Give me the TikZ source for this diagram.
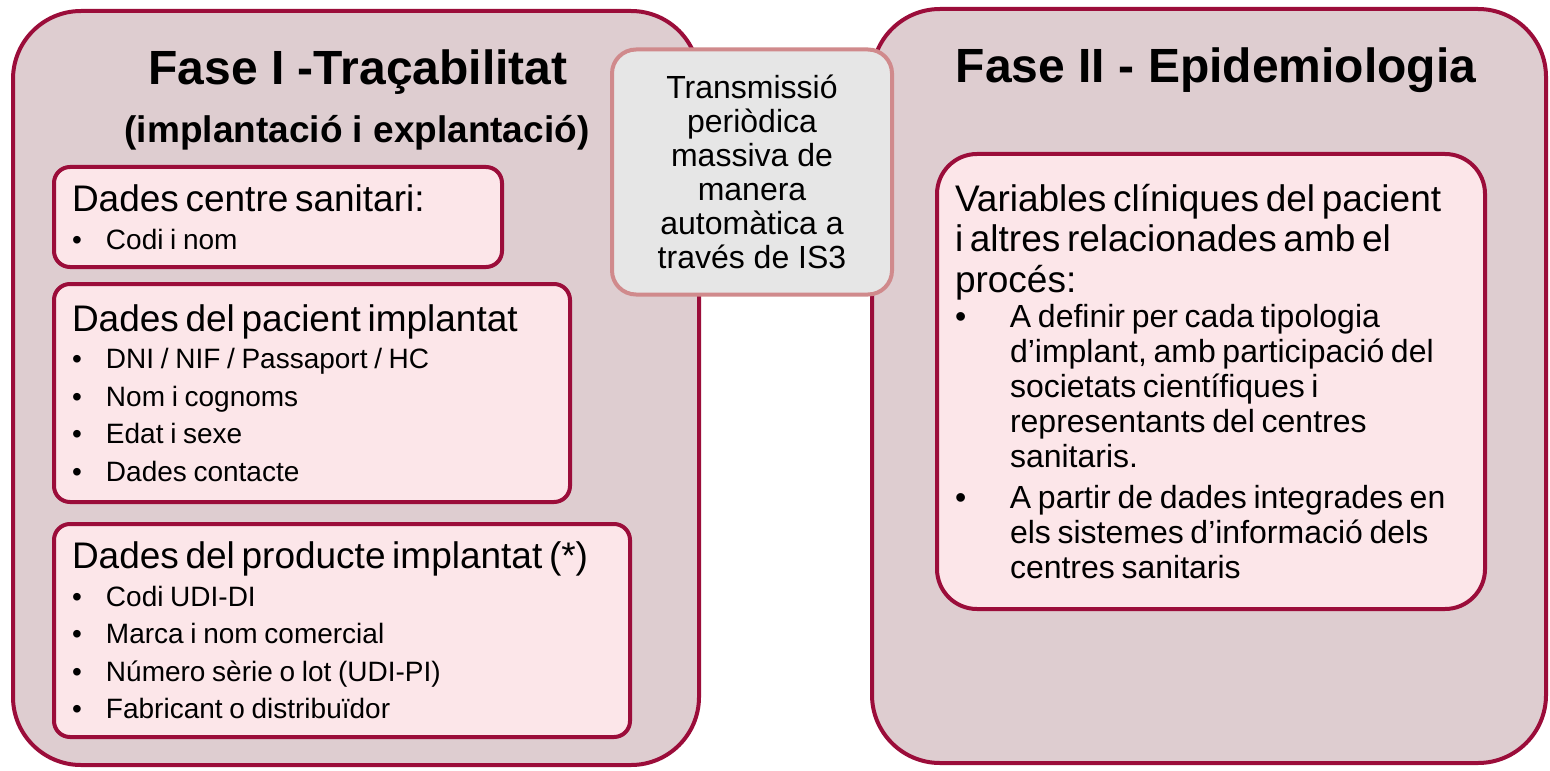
\documentclass[tikz,border=0pt]{standalone}
\usepackage{fontspec}
\setmainfont{Liberation Sans}
\usetikzlibrary{positioning}

\definecolor{faseborder}{HTML}{9B0D3A}
\definecolor{fasefill}{HTML}{DECDD0}
\definecolor{itemfill}{HTML}{FCE6E9}
\definecolor{linkfill}{HTML}{E6E6E6}
\definecolor{linkborder}{HTML}{D08A8C}

\newcommand{\headtxt}{\fontsize{18.5}{20.25}\selectfont}
\newcommand{\itemtxt}{\fontsize{14}{18.75}\selectfont}
\newcommand{\bul}[1]{\makebox[17pt][l]{\textbullet}#1}
\newcommand{\hbul}[1]{\makebox[27.5pt][l]{\textbullet}#1}
\newcommand{\hcont}[1]{\hspace*{27.5pt}#1}

\tikzset{
  fasebox/.style={draw=faseborder, fill=fasefill, line width=2pt, rounded corners=34pt},
  itembox/.style={draw=faseborder, fill=itemfill, line width=2pt, rounded corners=8pt,
    inner xsep=9pt, inner ysep=4pt, align=left, anchor=north west},
  linkbox/.style={draw=linkborder, fill=linkfill, line width=2pt, rounded corners=12pt,
    minimum width=140pt, minimum height=122.5pt, align=center,
    font=\fontsize{16}{17}\selectfont},
  titletxt/.style={font=\fontsize{24}{28}\selectfont\bfseries},
  subtxt/.style={font=\fontsize{18.5}{22}\selectfont\bfseries}
}

\begin{document}
\begin{tikzpicture}[x=0.5pt,y=-0.5pt]
    \useasboundingbox (0,0) rectangle (1550,770);

    % the two phases
    \node[fasebox, minimum width=343pt, minimum height=377pt] (fase1) at (356,388) {};
    \node[fasebox, minimum width=337pt, minimum height=377pt] (fase2) at (1209,386) {};

    \node[titletxt] (tit1) at (358,72) {Fase I -Traçabilitat};
    \node[subtxt] (sub1) at (357,133) {(implantació i explantació)};
    \node[titletxt] (tit2) at (1216,70) {Fase II - Epidemiologia};

    % data of phase I
    \node[itembox, text width=206pt, minimum height=50pt] (centre) at (52,165)
        {{\headtxt Dades centre sanitari:\par}
         {\itemtxt \bul{Codi i nom}\par}};
    \node[itembox, text width=240pt, minimum height=109pt] (pacient) at (52,282)
        {{\headtxt Dades del pacient implantat\par}
         {\itemtxt \bul{DNI / NIF / Passaport / HC}\\
          \bul{Nom i cognoms}\\
          \bul{Edat i sexe}\\
          \bul{Dades contacte}\par}};
    \node[itembox, text width=270pt, minimum height=106.5pt] (producte) at (52,522)
        {{\headtxt Dades del producte implantat (*)\par}
         {\itemtxt \bul{Codi UDI-DI}\\
          \bul{Marca i nom comercial}\\
          \bul{Número sèrie o lot (UDI-PI)}\\
          \bul{Fabricant o distribuïdor}\par}};

    % data of phase II
    \node[itembox, rounded corners=20pt, text width=256pt, minimum height=227.5pt] (clinic) at (935,152)
        {{\headtxt Variables clíniques del pacient\\
          i altres relacionades amb el\\
          procés:\par}
         {\fontsize{16}{17.5}\selectfont
          \hbul{A definir per cada tipologia}\\
          \hcont{d’implant, amb participació del}\\
          \hcont{societats científiques i}\\
          \hcont{representants del centres}\\
          \hcont{sanitaris.}\\[3pt]
          \hbul{A partir de dades integrades en}\\
          \hcont{els sistemes d’informació dels}\\
          \hcont{centres sanitaris}\par}};

    % transmission between phases
    \node[linkbox] (link) at (752,172)
        {Transmissió\\periòdica\\massiva de\\manera\\automàtica a\\través de IS3};

\end{tikzpicture}
\end{document}
